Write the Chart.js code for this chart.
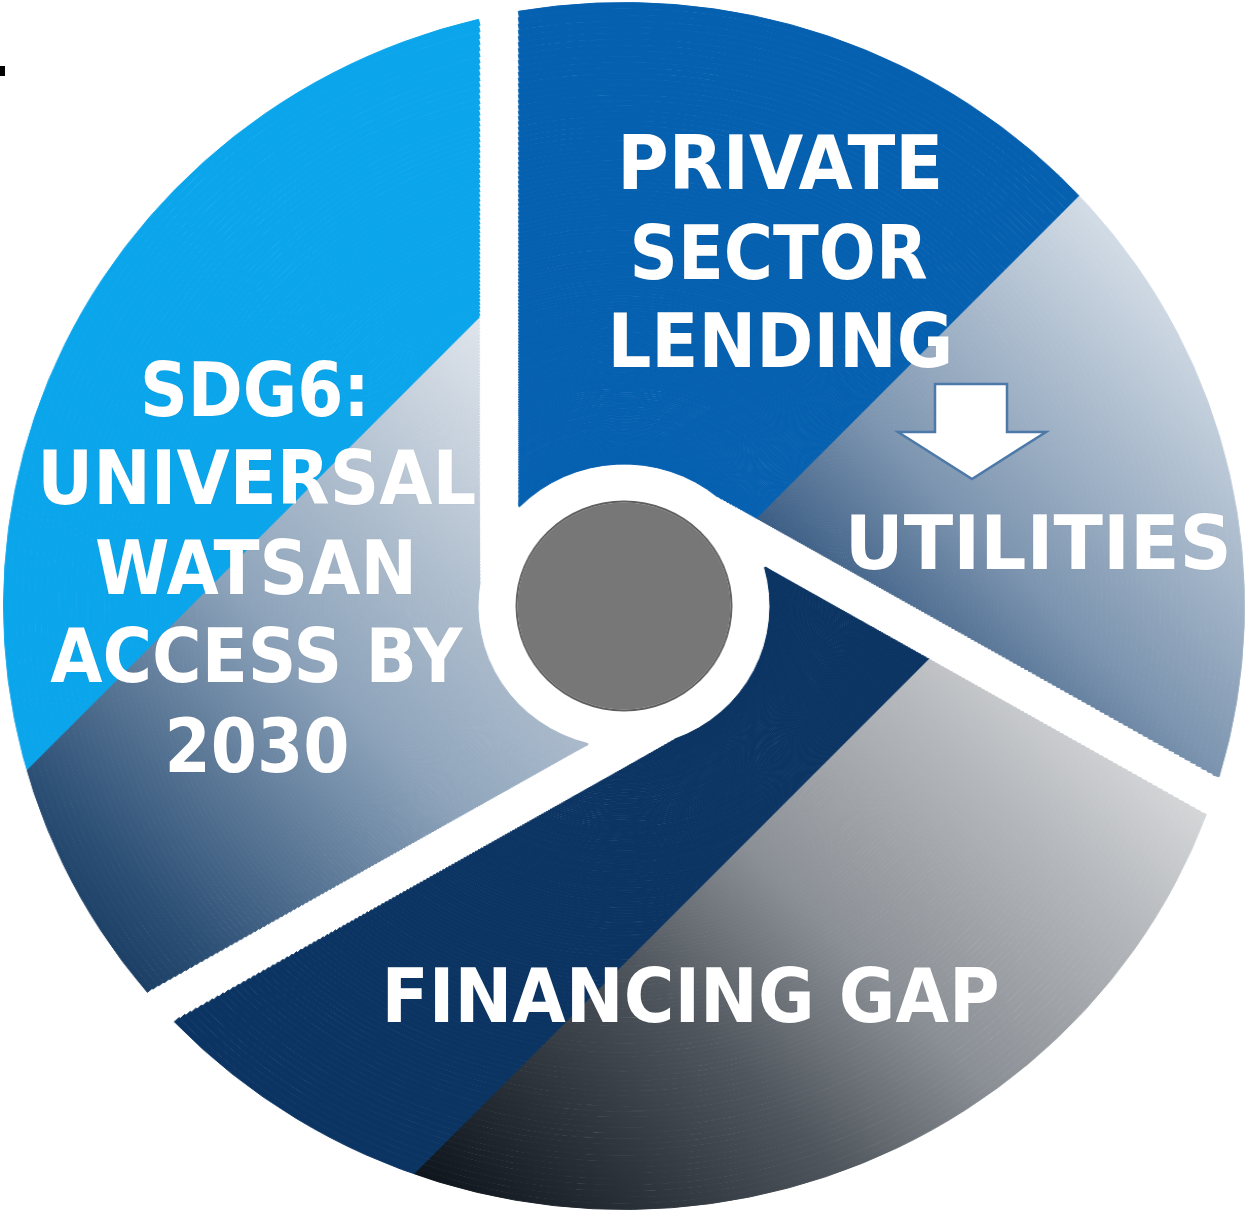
<!DOCTYPE html>
<html>
<head>
<meta charset="utf-8">
<title>SDG6 financing wheel</title>
<script src="https://cdn.jsdelivr.net/npm/chart.js@4.4.1/dist/chart.umd.min.js"></script>
<style>
  html, body { margin: 0; padding: 0; background: #fff; }
  #stage { position: relative; width: 1246px; height: 1212px; overflow: hidden; }
  #wheelWrap { position: absolute; left: 3px; top: 0; transform: scaleX(1.0281); transform-origin: 0 0; }
  .label {
    position: absolute; width: 1000px; text-align: center; color: #fff;
    font: bold 75.5px "DejaVu Sans", Verdana, sans-serif; line-height: 89px; white-space: nowrap;
  }
  .label span { display: inline-block; transform-origin: 50% 50%; text-shadow: 0 0 1px rgba(0, 0, 0, 0.15); }
  #mark { position: absolute; left: 0; top: 66px; width: 5px; height: 10px; background: #000; }
  #arrow { position: absolute; left: 0; top: 0; }
</style>
</head>
<body>
<div id="stage">
  <div id="wheelWrap"><canvas id="wheel" width="1208" height="1212"></canvas></div>
  <svg id="arrow" width="1246" height="1212">
    <polygon points="935,384 1007,384 1007,432 1046,432 972,479 898,432 935,432"
             fill="#fff" stroke="#4d79a8" stroke-width="2.5" stroke-linejoin="miter"/>
  </svg>
  <div id="mark"></div>
  <div id="labels"></div>
</div>
<script>
// three equal parts of the wheel, clockwise from the top gap
const segmentLabels = ['Private sector lending / Utilities', 'Financing gap', 'SDG6: Universal WATSAN access by 2030'];
const segmentShares = [1, 1, 1];

// colours: solid half, then the shaded half past a 45deg split (x + y = k in page px)
const solidColors = ['#0560b0', '#0b3463', '#0aa5eb'];
const splitLines = [1275, 1588, 797];
// stops along u = y - x (page px)
const shadeStops = [
  [[-900, '#d6dfe8'], [-450, '#7d95b0'], [-240, '#3b5d84']],
  [[-400, '#d6d8da'], [-200, '#b4b7bb'], [100, '#8a8f95'], [330, '#50565d'], [550, '#2c333b'], [770, '#0c131a']],
  [[-150, '#dde3ea'], [160, '#aabacb'], [350, '#8ea4bb'], [745, '#2c4f75'], [840, '#1d4066']]
];

// text lines: text, centre x, cap top, width
const labelLines = [
  ['PRIVATE', 780, 135, 326],
  ['SECTOR', 779, 225, 298],
  ['LENDING', 780, 313, 346],
  ['SDG6:', 255, 362, 230],
  ['UNIVERSAL', 257, 450, 439],
  ['WATSAN', 256, 540, 322],
  ['ACCESS BY', 256, 628, 412],
  ['2030', 257, 718, 185],
  ['UTILITIES', 1038, 515, 387],
  ['FINANCING GAP', 691, 968, 618]
];

const CANVAS_W = 1208, CANVAS_H = 1212;
const STRETCH = 1.0281, OFFSET_X = 3;
const D_IN = 103, D_OUT = 140;  // white gap strip edges, distance from centre
const GAP_FIX = 1.04;
const HOLE_R = 142, OUTER_R = 603.5, CORE_R = 103.5, CORE_EDGE = 2;
const RING_COUNT = 160;
const WEIGHT_TOTAL = 1000;
const BORDER = 1;

const canvas = document.getElementById('wheel');
const ctx = canvas.getContext('2d');

function makeFill(i) {
    const off = document.createElement('canvas');
    off.width = CANVAS_W;
    off.height = CANVAS_H;
    const g = off.getContext('2d');
    // draw in page coordinates
    g.setTransform(1 / STRETCH, 0, 0, 1, -OFFSET_X / STRETCH, 0);
    g.fillStyle = solidColors[i];
    g.fillRect(-100, -100, 1500, 1500);
    const stops = shadeStops[i];
    const uA = stops[0][0], uB = stops[stops.length - 1][0];
    const grad = g.createLinearGradient(-uA / 2, uA / 2, -uB / 2, uB / 2);
    stops.forEach(([u, c]) => grad.addColorStop((u - uA) / (uB - uA), c));
    const k = splitLines[i];
    g.beginPath();
    g.moveTo(k + 3000, -3000);
    g.lineTo(k - 3000, 3000);
    g.lineTo(4000, 4000);
    g.closePath();
    g.fillStyle = grad;
    g.fill();
    return ctx.createPattern(off, 'no-repeat');
}

const fills = solidColors.map((_, i) => makeFill(i));

// ring geometry: the gaps are straight strips that miss the centre,
// so the wheel is built from thin rings, each turned and spaced to follow them
const side = Math.min(CANVAS_W, CANVAS_H) - BORDER;
const coreCum = r => r / (side / 2) * WEIGHT_TOTAL;
const gapAngle = (r, d) => Math.atan2(-Math.sqrt(Math.max(r * r - d * d, 0)), -d);
const sliceAngle = 2 * Math.PI * segmentShares[0] / segmentShares.reduce((a, b) => a + b, 0);

const dMid = (D_IN + D_OUT) / 2;
const uOf = r => Math.log(r + Math.sqrt(r * r - dMid * dMid));
const rOf = u => (Math.exp(u) + dMid * dMid * Math.exp(-u)) / 2;
const u0 = uOf(HOLE_R), u1 = uOf(OUTER_R);
const radii = [];
for (let k = 0; k <= RING_COUNT; k++) {
    radii.push(rOf(u1 - (u1 - u0) * k / RING_COUNT));
}

const datasets = [];
let cOut = WEIGHT_TOTAL;
for (let k = 0; k < RING_COUNT; k++) {
    const rIn = radii[k + 1];
    const rm = (radii[k] + rIn) / 2;
    const a1 = gapAngle(rm, D_IN), a2 = gapAngle(rm, D_OUT);
    const gap = (a1 - a2) * GAP_FIX;
    const half = gap * rm / (sliceAngle + 0.5 * gap);   // Chart.js spacing / 2
    const base = (side - 2 * half) / 2;
    const cIn = (rIn - half) / base * WEIGHT_TOTAL;
    datasets.push({
        data: segmentShares,
        backgroundColor: fills,
        borderColor: fills,
        borderWidth: BORDER,
        hoverBorderWidth: BORDER,
        spacing: 2 * half,
        rotation: (a1 + a2) / 2 * 180 / Math.PI + 90,
        weight: cOut - cIn
    });
    cOut = cIn;
}
// white ring round the hub
datasets.push({
    data: [1], backgroundColor: 'rgba(255,255,255,0)', borderWidth: 0, spacing: 0,
    weight: cOut - coreCum(CORE_R + CORE_EDGE)
});
// hub outline and hub
datasets.push({
    data: [1], backgroundColor: '#5e5e5e', borderWidth: 0, spacing: 0,
    weight: coreCum(CORE_R + CORE_EDGE) - coreCum(CORE_R)
});
datasets.push({
    data: [1], backgroundColor: '#777777', borderWidth: 0, spacing: 0,
    weight: coreCum(CORE_R)
});

new Chart(ctx, {
    type: 'doughnut',
    data: { labels: segmentLabels, datasets },
    options: {
        responsive: false,
        animation: false,
        events: [],
        cutout: 0,
        layout: { padding: 0 },
        plugins: {
            legend: { display: false },
            tooltip: { enabled: false }
        }
    }
});

// labels
const FONT_PX = 75.5, LINE_H = 89;
const capOffset = (LINE_H - FONT_PX * 1.164) / 2 + FONT_PX * 0.928 - FONT_PX * 0.729;
const holder = document.getElementById('labels');
labelLines.forEach(([text, cx, capTop, width]) => {
    const div = document.createElement('div');
    div.className = 'label';
    div.style.left = (cx - 500) + 'px';
    div.style.top = (capTop - capOffset) + 'px';
    const span = document.createElement('span');
    span.textContent = text;
    div.appendChild(span);
    holder.appendChild(div);
    const natural = span.getBoundingClientRect().width;
    span.style.transform = `scaleX(${(width / natural).toFixed(4)})`;
});
</script>
</body>
</html>
